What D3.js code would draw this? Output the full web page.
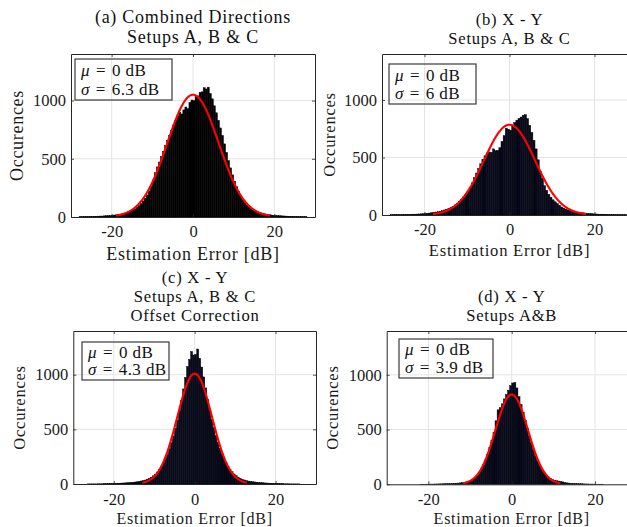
<!DOCTYPE html>
<html>
<head>
<meta charset="utf-8">
<script src="https://cdn.jsdelivr.net/npm/d3@7"></script>
<style>
  html, body { margin: 0; padding: 0; background: #ffffff; }
  svg { display: block; }
</style>
</head>
<body>
<svg id="fig" width="627" height="527"></svg>
<script>
// Histogram bins: 0.5 dB wide, first bin starts at -28 dB
const binStart = -28;
const binWidth = 0.5;

// (a) Combined directions, setups A, B & C
const countsA = [
  3, 2, 4, 3, 4, 5, 4, 6, 6, 7,
  8, 8, 10, 11, 12, 13, 15, 17, 19, 22,
  25, 29, 33, 38, 45, 52, 60, 70, 84, 98,
  116, 138, 162, 190, 225, 265, 318, 380, 430, 472,
  520, 565, 615, 660, 702, 745, 790, 832, 868, 900,
  885, 920, 945, 930, 985, 1005, 1000, 1035, 1040, 1070,
  1075, 1110, 1100, 1115, 1060, 1015, 955, 895, 830, 765,
  700, 628, 555, 485, 422, 362, 308, 260, 220, 182,
  148, 125, 104, 88, 75, 64, 55, 47, 40, 34,
  30, 26, 23, 20, 17, 15, 14, 12, 11, 10,
  9, 8, 7, 6, 6, 5, 4, 4, 3, 3,
  2, 2
];

// (b) X - Y, setups A, B & C
const countsB = [
  2, 2, 3, 3, 3, 4, 4, 5, 5, 6,
  7, 7, 8, 9, 10, 11, 13, 15, 17, 20,
  23, 26, 29, 33, 38, 44, 51, 58, 66, 76,
  88, 102, 118, 136, 157, 180, 208, 240, 280, 325,
  365, 405, 445, 485, 515, 540, 548, 545, 575, 560,
  562, 585, 640, 690, 755, 745, 738, 780, 805, 825,
  840, 852, 868, 872, 838, 780, 718, 650, 575, 480,
  380, 320, 255, 215, 180, 155, 132, 115, 100, 85,
  70, 60, 52, 45, 40, 35, 30, 27, 24, 22,
  19, 17, 15, 13, 12, 10, 9, 8, 7, 7,
  6, 5, 5, 4, 4, 3, 3, 3, 2, 2,
  2, 1
];

// (c) X - Y, setups A, B & C, offset correction
const countsC = [
  0, 0, 0, 1, 1, 1, 1, 1, 2, 2,
  2, 3, 3, 4, 4, 5, 5, 6, 7, 8,
  9, 10, 11, 12, 14, 16, 18, 20, 23, 27,
  31, 36, 43, 51, 62, 75, 90, 110, 132, 160,
  192, 230, 272, 322, 378, 440, 510, 585, 670, 765,
  870, 975, 1075, 1140, 1212, 1180, 1185, 1235, 1150, 1070,
  980, 879, 773, 676, 591, 516, 444, 383, 327, 277,
  234, 196, 164, 135, 112, 92, 76, 63, 52, 43,
  37, 31, 27, 24, 21, 19, 17, 15, 13, 12,
  10, 9, 8, 7, 6, 5, 5, 4, 3, 3,
  2, 2, 2, 1, 1, 1, 1, 1, 0, 0,
  0, 0
];

// (d) X - Y, setups A & B
const countsD = [
  0, 0, 0, 0, 0, 0, 0, 0, 0, 0,
  0, 0, 1, 1, 1, 1, 2, 2, 2, 3,
  3, 4, 4, 5, 5, 6, 7, 8, 9, 10,
  11, 13, 16, 19, 23, 29, 37, 48, 62, 82,
  108, 140, 178, 222, 275, 335, 400, 475, 580, 680,
  700, 735, 780, 820, 860, 900, 925, 930, 880, 800,
  730, 660, 585, 510, 440, 372, 312, 258, 210, 170,
  136, 108, 86, 68, 54, 44, 37, 33, 30, 27,
  22, 17, 13, 11, 9, 8, 7, 6, 5, 5,
  4, 3, 3, 2, 2, 2, 1, 1, 1, 1,
  0, 0, 0, 0, 0, 0, 0, 0, 0, 0,
  0, 0
];

// Normal fits: mean, standard deviation (dB) and peak height
const fitMu = [0, 0, 0, 0];
const fitSigma = [6.3, 6, 4.3, 3.9];
const fitPeak = [1050, 785, 1010, 820];

const titlesA = ["(a) Combined Directions", "Setups A, B & C"];
const titlesB = ["(b) X - Y", "Setups A, B & C"];
const titlesC = ["(c) X - Y", "Setups A, B & C", "Offset Correction"];
const titlesD = ["(d) X - Y", "Setups A&B"];

const xTicks = [-20, 0, 20];
const yTicks = [0, 500, 1000];
const xDomain = [-30, 30];
const yDomain = [0, 1400];
const xLabel = "Estimation Error [dB]";
const yLabel = "Occurences";

const FONT = '"Liberation Serif", "Times New Roman", serif';

const panels = [
  { counts: countsA, titles: titlesA, k: 0, fill: "#000000",
    box: { l: 71, r: 315, t: 54, b: 217 },
    titleSize: 18, labelSize: 18, xlabSize: 18, titleBase: [23, 43], titleCx: 193,
    tickBase: 237, xlabBase: 260, ylabX: 23,
    legend: { x: 75, y: 59, w: 97, h: 41 } },
  { counts: countsB, titles: titlesB, k: 1, fill: "#080a20",
    box: { l: 382, r: 637, t: 54, b: 215 },
    titleSize: 16.6, labelSize: 16.6, xlabSize: 16.6, titleBase: [24.5, 44], titleCx: 509.5,
    tickBase: 235, xlabBase: 256, ylabX: 335,
    legend: { x: 389, y: 64, w: 87, h: 40 } },
  { counts: countsC, titles: titlesC, k: 2, fill: "#080a20",
    box: { l: 73.3, r: 316, t: 331, b: 484 },
    titleSize: 16.6, labelSize: 16.6, xlabSize: 16, titleBase: [283, 302, 321], titleCx: 195,
    tickBase: 504.5, xlabBase: 523.5, ylabX: 25,
    legend: { x: 82, y: 342, w: 87, h: 38 } },
  { counts: countsD, titles: titlesD, k: 3, fill: "#080a20",
    box: { l: 386.7, r: 636.7, t: 331, b: 484.3 },
    titleSize: 16.6, labelSize: 16.6, xlabSize: 16, titleBase: [302, 321], titleCx: 511.7,
    tickBase: 504.5, xlabBase: 523.5, ylabX: 338,
    legend: { x: 399, y: 339, w: 94, h: 39 } }
];

const svg = d3.select("#fig");
const axisColor = "#262626";
const fmtTick = d => (d < 0 ? "-" + Math.abs(d) : String(d));

panels.forEach(p => {
  const x = d3.scaleLinear().domain(xDomain).range([p.box.l, p.box.r]);
  const y = d3.scaleLinear().domain(yDomain).range([p.box.b, p.box.t]);
  const g = svg.append("g");

  // grid lines
  g.append("g").selectAll("line").data(xTicks).join("line")
    .attr("x1", d => x(d)).attr("x2", d => x(d))
    .attr("y1", p.box.t).attr("y2", p.box.b)
    .attr("stroke", "#e4e4e4").attr("stroke-width", 1);
  g.append("g").selectAll("line").data(yTicks.filter(v => v > 0)).join("line")
    .attr("x1", p.box.l).attr("x2", p.box.r)
    .attr("y1", d => y(d)).attr("y2", d => y(d))
    .attr("stroke", "#e4e4e4").attr("stroke-width", 1);

  // histogram bars
  const bins = p.counts.map((c, i) => ({
    x0: binStart + i * binWidth,
    x1: binStart + (i + 1) * binWidth,
    c
  })).filter(b => b.c > 0);
  g.append("g").selectAll("rect").data(bins).join("rect")
    .attr("x", d => x(d.x0))
    .attr("width", d => x(d.x1) - x(d.x0))
    .attr("y", d => y(d.c))
    .attr("height", d => y(0) - y(d.c))
    .attr("fill", p.fill)
    .attr("stroke", "#000000")
    .attr("stroke-width", 0.45);

  // fitted normal curve over mean +/- 3 sigma
  const mu = fitMu[p.k], s = fitSigma[p.k], A = fitPeak[p.k];
  const xs = d3.range(mu - 3 * s, mu + 3 * s + 1e-9, s / 60);
  const line = d3.line()
    .x(v => x(v))
    .y(v => y(A * Math.exp(-((v - mu) ** 2) / (2 * s * s))));
  g.append("path").datum(xs)
    .attr("d", line)
    .attr("fill", "none")
    .attr("stroke", "#ff0000")
    .attr("stroke-width", 2.1)
    .attr("stroke-linejoin", "round");

  // axes (ticks point inward, box on all sides)
  const styleAxis = sel => {
    sel.attr("font-family", FONT);
    sel.select(".domain").attr("stroke", axisColor).attr("stroke-width", 1);
    sel.selectAll(".tick line").attr("stroke", axisColor).attr("stroke-width", 0.8);
    sel.selectAll("text").attr("fill", "#1a1a1a")
      .style("font-family", FONT)
      .style("font-size", "16.5px");
  };
  const ax = g.append("g").attr("transform", `translate(0,${p.box.b})`)
    .call(d3.axisBottom(x).tickValues(xTicks).tickFormat(fmtTick)
      .tickSizeInner(-3).tickSizeOuter(0).tickPadding(p.tickBase - p.box.b - 11.7));
  styleAxis(ax);
  const axTop = g.append("g").attr("transform", `translate(0,${p.box.t})`)
    .call(d3.axisTop(x).tickValues(xTicks).tickFormat("")
      .tickSizeInner(-3).tickSizeOuter(0));
  styleAxis(axTop);
  const ay = g.append("g").attr("transform", `translate(${p.box.l},0)`)
    .call(d3.axisLeft(y).tickValues(yTicks).tickFormat(d => String(d))
      .tickSizeInner(-3).tickSizeOuter(0).tickPadding(5));
  styleAxis(ay);
  const ayR = g.append("g").attr("transform", `translate(${p.box.r},0)`)
    .call(d3.axisRight(y).tickValues(yTicks).tickFormat("")
      .tickSizeInner(-3).tickSizeOuter(0));
  styleAxis(ayR);

  // axis labels
  g.append("text")
    .attr("x", (p.box.l + p.box.r) / 2)
    .attr("y", p.xlabBase)
    .attr("text-anchor", "middle")
    .attr("fill", "#1a1a1a")
    .style("font-family", FONT)
    .style("font-size", p.xlabSize + "px")
    .style("letter-spacing", "0.75px")
    .text(xLabel);
  g.append("text")
    .attr("transform", `translate(${p.ylabX},${(p.box.t + p.box.b) / 2}) rotate(-90)`)
    .attr("text-anchor", "middle")
    .attr("fill", "#1a1a1a")
    .style("font-family", FONT)
    .style("font-size", p.labelSize + "px")
    .style("letter-spacing", "0.7px")
    .text(yLabel);

  // title lines
  p.titles.forEach((t, i) => {
    g.append("text")
      .attr("x", p.titleCx)
      .attr("y", p.titleBase[i])
      .attr("text-anchor", "middle")
      .attr("fill", "#111111")
      .style("font-family", FONT)
      .style("font-size", p.titleSize + "px")
      .style("letter-spacing", "0.75px")
      .text(t);
  });

  // legend box with fit parameters
  const L = p.legend;
  g.append("rect")
    .attr("x", L.x).attr("y", L.y).attr("width", L.w).attr("height", L.h)
    .attr("fill", "none").attr("stroke", "#3a3a3a").attr("stroke-width", 1.2);
  const rows = [["\u03bc", fitMu[p.k]], ["\u03c3", fitSigma[p.k]]];
  rows.forEach((r, i) => {
    const t = g.append("text")
      .attr("x", L.x + 6)
      .attr("y", L.y + L.h * (i === 0 ? 0.42 : 0.88))
      .attr("fill", "#111111")
      .style("font-family", FONT)
      .style("font-size", "17px")
      .style("letter-spacing", "0.4px");
    t.append("tspan").style("font-style", "italic").text(r[0]);
    t.append("tspan").attr("dx", 6).text("=");
    t.append("tspan").attr("dx", 6).text(r[1] + " dB");
  });
});
</script>
</body>
</html>
